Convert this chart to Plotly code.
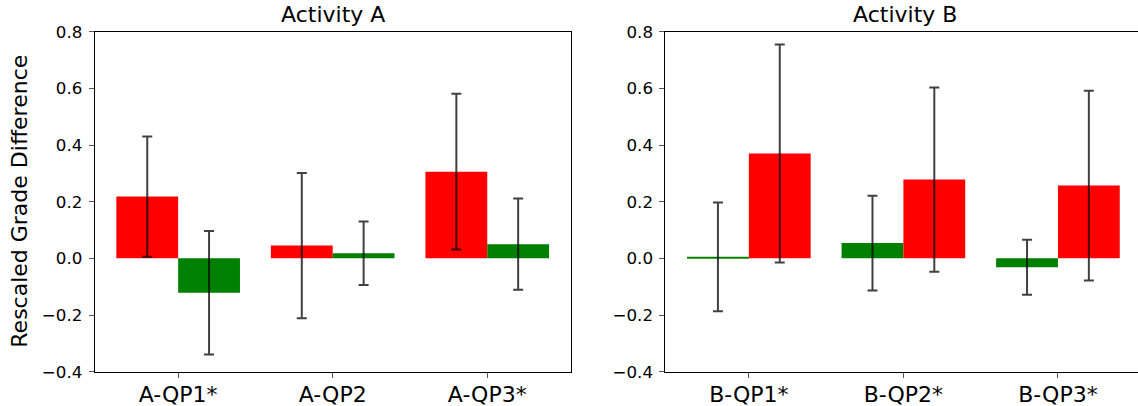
import plotly.graph_objects as go

# Categories per activity
cats_a = ["A-QP1*", "A-QP2", "A-QP3*"]
cats_b = ["B-QP1*", "B-QP2*", "B-QP3*"]

# Activity A: red series first, green second
red_a = [0.218, 0.045, 0.306]
red_a_err = [0.212, 0.256, 0.275]
green_a = [-0.121, 0.018, 0.050]
green_a_err = [0.218, 0.112, 0.161]

# Activity B: green series first, red second
green_b = [0.005, 0.054, -0.031]
green_b_err = [0.192, 0.167, 0.097]
red_b = [0.370, 0.278, 0.257]
red_b_err = [0.385, 0.325, 0.335]

RED = "#ff0000"
GREEN = "#008000"
FONT = "DejaVu Sans"
W, H = 1138, 406

pos = list(range(3))


def bars(vals, errs, color, offset, xa, ya):
    return go.Bar(
        x=pos, y=vals, width=0.4, offset=offset,
        marker=dict(color=color, line=dict(width=0)),
        error_y=dict(type="data", array=errs, visible=True,
                     color="rgba(0,0,0,0.75)", thickness=2, width=5),
        xaxis=xa, yaxis=ya, showlegend=False, hoverinfo="y",
    )


fig = go.Figure()
fig.add_trace(bars(red_a, red_a_err, RED, -0.4, "x", "y"))
fig.add_trace(bars(green_a, green_a_err, GREEN, 0.0, "x", "y"))
fig.add_trace(bars(green_b, green_b_err, GREEN, -0.4, "x2", "y2"))
fig.add_trace(bars(red_b, red_b_err, RED, 0.0, "x2", "y2"))

# plot-area geometry in pixels
ax_left, ax_right = 94.7, 570.7
bx_left = 665.4
top_px, bot_px = 31.7, 371.7
ydom = [1 - bot_px / H, 1 - top_px / H]
unit = (ax_right - ax_left) / 3.08
b_range_hi = -0.54 + (W - bx_left) / unit

common_x = dict(
    tickmode="array", tickvals=pos, ticks="outside", ticklen=5, tickwidth=1,
    tickcolor="#555", showline=True, linecolor="black", linewidth=1,
    mirror=True, showgrid=False, zeroline=False, ticklabelstandoff=-2,
    tickfont=dict(family=FONT, size=22, color="black"), automargin=False,
)
common_y = dict(
    range=[-0.4, 0.8], tickmode="linear", tick0=-0.4, dtick=0.2,
    tickformat=".1f", ticks="outside", ticklen=5, tickwidth=1,
    tickcolor="#555", showline=True, linecolor="black", linewidth=1,
    showgrid=False, zeroline=False, ticklabelstandoff=3,
    tickfont=dict(family=FONT, size=16.7, color="black"), automargin=False,
)

fig.update_layout(
    width=W, height=H,
    margin=dict(l=0, r=0, t=0, b=0),
    plot_bgcolor="white", paper_bgcolor="white",
    barmode="overlay",
    xaxis=dict(common_x, domain=[ax_left / W, ax_right / W],
               range=[-0.54, 2.54], ticktext=cats_a, anchor="y"),
    xaxis2=dict(common_x, domain=[bx_left / W, 1.0],
                range=[-0.54, b_range_hi], ticktext=cats_b, anchor="y2"),
    yaxis=dict(common_y, domain=ydom, anchor="x", mirror=True),
    yaxis2=dict(common_y, domain=ydom, anchor="x2", mirror=False),
    annotations=[
        dict(text="Activity A", x=(ax_left + ax_right) / 2 / W, y=1 - 29.5 / H,
             xref="paper", yref="paper", xanchor="center", yanchor="bottom",
             showarrow=False, font=dict(family=FONT, size=22, color="black")),
        dict(text="Activity B", x=905 / W, y=1 - 29.5 / H,
             xref="paper", yref="paper", xanchor="center", yanchor="bottom",
             showarrow=False, font=dict(family=FONT, size=22, color="black")),
        dict(text="Rescaled Grade Difference", x=20 / W,
             y=1 - (top_px + bot_px) / 2 / H, xref="paper", yref="paper",
             xanchor="center", yanchor="middle", textangle=-90,
             showarrow=False, font=dict(family=FONT, size=22, color="black")),
    ],
)

fig.write_html("out.html")
